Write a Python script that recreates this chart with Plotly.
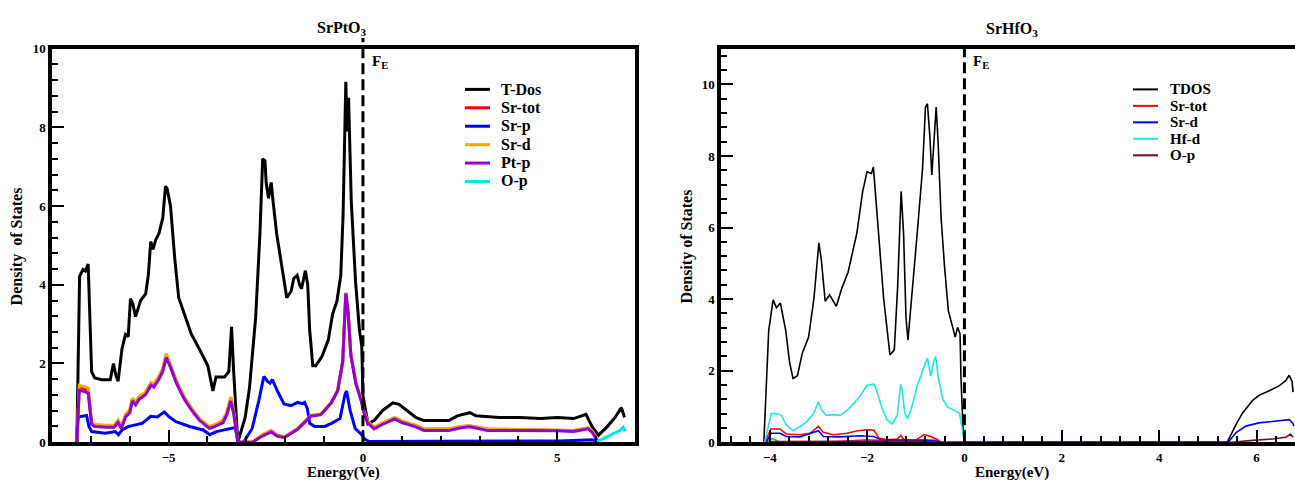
import plotly.graph_objects as go

W, H = 1295, 488
def px(x): return x / W
def py(y): return 1 - y / H

# ---------------- SrPtO3 (left panel) ----------------
pt_tdos_x = [-7.36, -7.29, -7.2, -7.14, -7.07, -6.98, -6.9, -6.72, -6.5, -6.42, -6.36, -6.3, -6.2, -6.11,
             -6.04, -5.98, -5.92, -5.85, -5.72, -5.59, -5.52, -5.46, -5.4, -5.33, -5.25, -5.15, -5.08, -5.04,
             -4.95, -4.84, -4.74, -4.63, -4.42, -4.2, -3.99, -3.86, -3.78, -3.56, -3.45, -3.38, -3.33, -3.22,
             -3.03, -2.92, -2.76, -2.65, -2.58, -2.52, -2.49, -2.43, -2.36, -2.31, -2.22, -2.06, -1.96, -1.85,
             -1.78, -1.69, -1.63, -1.58, -1.48, -1.42, -1.37, -1.29, -1.21, -1.05, -0.89, -0.78, -0.67, -0.57,
             -0.51, -0.44, -0.41, -0.37, -0.3, -0.19, -0.09, -0.03, 0.0, 0.07, 0.13, 0.29, 0.5, 0.77, 0.93,
             1.14, 1.36, 1.57, 2.21, 2.43, 2.75, 2.91, 3.5, 4.03, 4.57, 5.0, 5.42, 5.74, 5.9, 6.06, 6.28,
             6.49, 6.65, 6.73]
pt_tdos_y = [0, 4.22, 4.39, 4.35, 4.53, 1.79, 1.63, 1.59, 1.59, 2.0, 1.71, 1.55, 2.37, 2.74,
             2.68, 3.65, 3.52, 3.19, 3.6, 3.77, 4.26, 5.1, 4.9, 5.15, 5.3, 5.7, 6.5, 6.45,
             6.0, 4.65, 3.67, 3.34, 2.76, 2.35, 1.94, 1.3, 1.66, 1.66, 1.8, 2.93, 1.86, 0,
             0.63, 1.37, 3.17, 5.3, 7.2, 7.15, 6.6, 6.2, 6.6, 6.1, 5.3, 4.3, 3.67, 3.83,
             4.16, 4.24, 4.0, 3.9, 4.36, 4.0, 2.85, 1.94, 1.94, 2.19, 2.6, 3.26, 3.58, 4.24,
             5.8, 9.16, 7.9, 8.75, 6.13, 4.08, 2.85, 2.44, 1.2, 0.8, 0.47, 0.55, 0.8, 1.0, 0.96,
             0.8, 0.63, 0.55, 0.55, 0.67, 0.75, 0.67, 0.63, 0.63, 0.6, 0.63, 0.6, 0.71, 0.39, 0.18, 0.39,
             0.63, 0.88, 0.63]

pt_pd_x = [-7.36, -7.3, -7.2, -7.07, -6.98, -6.9, -6.6, -6.4, -6.3, -6.22, -6.1, -6.0, -5.93, -5.85,
           -5.75, -5.6, -5.45, -5.38, -5.25, -5.15, -5.06, -4.95, -4.8, -4.6, -4.4, -4.2, -3.95, -3.8,
           -3.6, -3.5, -3.4, -3.32, -3.22, -2.84, -2.6, -2.45, -2.36, -2.2, -2.02, -1.68, -1.34, -1.08,
           -0.82, -0.65, -0.52, -0.44, -0.38, -0.31, -0.18, -0.05, 0.03, 0.12, 0.29, 0.5, 0.82, 1.0,
           1.36, 1.57, 2.21, 2.5, 2.75, 3.2, 4.0, 4.5, 5.0, 5.42, 5.8, 5.9, 6.06]
pt_ptp_y = [0, 1.32, 1.3, 1.25, 0.45, 0.4, 0.38, 0.38, 0.5, 0.35, 0.65, 0.75, 1.05, 0.95,
            1.1, 1.2, 1.45, 1.4, 1.6, 1.8, 2.15, 1.9, 1.5, 1.1, 0.8, 0.55, 0.35, 0.4,
            0.5, 0.7, 1.05, 0.7, 0, 0, 0.15, 0.22, 0.26, 0.15, 0.12, 0.33, 0.66, 0.7,
            0.99, 1.31, 2.05, 3.78, 3.28, 2.2, 1.48, 1.07, 0.74, 0.49, 0.34, 0.45, 0.59, 0.5,
            0.39, 0.3, 0.3, 0.36, 0.39, 0.3, 0.3, 0.29, 0.29, 0.27, 0.34, 0.25, 0]
pt_srd_y = [0, 1.45, 1.42, 1.38, 0.5, 0.45, 0.43, 0.43, 0.56, 0.4, 0.72, 0.82, 1.12, 1.02,
            1.17, 1.27, 1.52, 1.47, 1.68, 1.88, 2.25, 1.98, 1.57, 1.16, 0.85, 0.6, 0.4, 0.45,
            0.56, 0.77, 1.15, 0.75, 0, 0, 0.18, 0.26, 0.3, 0.18, 0.14, 0.35, 0.68, 0.72,
            1.0, 1.32, 2.05, 3.8, 3.3, 2.22, 1.5, 1.1, 0.78, 0.53, 0.38, 0.49, 0.63, 0.54,
            0.43, 0.34, 0.34, 0.4, 0.42, 0.34, 0.33, 0.32, 0.32, 0.3, 0.37, 0.28, 0]
pt_srtot_y = [0, 1.4, 1.38, 1.33, 0.48, 0.43, 0.41, 0.41, 0.54, 0.38, 0.7, 0.8, 1.1, 1.0,
              1.15, 1.25, 1.5, 1.45, 1.65, 1.85, 2.22, 1.95, 1.55, 1.14, 0.83, 0.58, 0.38, 0.43,
              0.54, 0.75, 1.12, 0.73, 0, 0, 0.17, 0.25, 0.29, 0.17, 0.13, 0.34, 0.67, 0.71,
              1.0, 1.31, 2.05, 3.79, 3.29, 2.21, 1.49, 1.09, 0.77, 0.52, 0.37, 0.48, 0.62, 0.53,
              0.42, 0.33, 0.33, 0.39, 0.41, 0.33, 0.32, 0.31, 0.31, 0.29, 0.36, 0.27, 0]

pt_srp_x = [-7.37, -7.33, -7.11, -7.05, -6.98, -6.63, -6.37, -6.29, -6.2, -6.03, -5.85, -5.68, -5.46,
            -5.29, -5.11, -4.98, -4.81, -4.46, -4.11, -3.94, -3.77, -3.42, -3.29, -3.2, -3.07, -2.85,
            -2.68, -2.55, -2.46, -2.39, -2.33, -2.2, -2.03, -1.85, -1.68, -1.55, -1.5, -1.43, -1.37,
            -1.24, -0.98, -0.81, -0.59, -0.46, -0.42, -0.33, -0.2, -0.07, 0.06, 0.15, 1.0, 3.0, 5.0,
            5.6, 5.9, 6.05]
pt_srp_y = [0, 0.64, 0.68, 0.4, 0.27, 0.23, 0.27, 0.19, 0.31, 0.4, 0.44, 0.48, 0.66,
            0.64, 0.77, 0.64, 0.52, 0.4, 0.31, 0.19, 0.27, 0.35, 0.37, 0, 0, 0.35,
            1.05, 1.67, 1.55, 1.5, 1.59, 1.3, 0.97, 0.93, 1.01, 0.98, 1.01, 0.85, 0.48,
            0.4, 0.4, 0.48, 0.6, 1.22, 1.3, 0.81, 0.35, 0.23, 0.07, 0.02, 0.02, 0.03, 0.03,
            0.05, 0.06, 0]

pt_op_x = [6.0, 6.1, 6.3, 6.5, 6.62, 6.7, 6.75]
pt_op_y = [0, 0.05, 0.15, 0.24, 0.3, 0.38, 0.28]

# ---------------- SrHfO3 (right panel) ----------------
hf_tdos_x = [-4.12, -4.02, -3.93, -3.86, -3.78, -3.67, -3.59, -3.52, -3.43, -3.33, -3.2, -3.09, -2.99,
             -2.94, -2.86, -2.77, -2.71, -2.63, -2.52, -2.39, -2.21, -2.09, -2.0, -1.91, -1.87, -1.79,
             -1.66, -1.53, -1.44, -1.37, -1.3, -1.25, -1.2, -1.16, -1.08, -0.97, -0.86, -0.8, -0.76,
             -0.71, -0.67, -0.63, -0.58, -0.54, -0.48, -0.41, -0.33, -0.24, -0.19, -0.14, -0.09, -0.07,
             -0.03, 0.0, 5.4, 5.58, 5.71, 5.92, 6.05, 6.26, 6.47, 6.6, 6.67, 6.73, 6.75]
hf_tdos_y = [0, 3.12, 3.98, 3.76, 3.89, 3.12, 2.22, 1.78, 1.86, 2.49, 2.94, 4.03, 5.57,
             5.11, 3.94, 4.12, 3.98, 3.8, 4.3, 4.75, 5.84, 7.01, 7.56, 7.51, 7.69, 6.29,
             4.03, 2.44, 2.58, 4.39, 7.01, 5.84, 3.48, 2.85, 4.03, 5.84, 7.65, 9.37, 9.46,
             8.55, 7.47, 8.37, 9.37, 8.37, 6.29, 4.93, 3.67, 3.21, 2.94, 3.21, 3.03, 1.76,
             0.41, 0, 0, 0.5, 0.81, 1.17, 1.31, 1.44, 1.58, 1.72, 1.87, 1.7, 1.4]

hf_srtot_x = [-4.08, -4.03, -3.97, -3.79, -3.66, -3.38, -3.17, -3.0, -2.9, -2.69, -2.41, -2.2, -2.0,
              -1.86, -1.76, -1.59, -1.38, -1.31, -1.24, -1.03, -0.83, -0.69, -0.55, -0.48]
hf_srtot_y = [0, 0.21, 0.37, 0.37, 0.23, 0.21, 0.25, 0.44, 0.28, 0.21, 0.25, 0.32, 0.35,
              0.34, 0.12, 0.07, 0.09, 0.19, 0.07, 0.03, 0.21, 0.16, 0.07, 0]

hf_srd_x = [-4.07, -3.97, -3.79, -3.66, -3.38, -3.0, -2.9, -2.55, -2.14, -1.86, -1.72, -1.31, -0.97,
            -0.62, -0.48, 5.42, 5.58, 5.78, 6.05, 6.47, 6.67, 6.74, 6.77]
hf_srd_y = [0, 0.25, 0.25, 0.16, 0.15, 0.32, 0.16, 0.15, 0.18, 0.16, 0.07, 0.07, 0.05,
            0.05, 0, 0, 0.27, 0.45, 0.54, 0.59, 0.63, 0.54, 0.45]

hf_hfd_x = [-4.1, -4.03, -3.97, -3.86, -3.76, -3.66, -3.52, -3.38, -3.24, -3.1, -3.0, -2.93, -2.83,
            -2.69, -2.55, -2.41, -2.28, -2.14, -2.0, -1.86, -1.79, -1.69, -1.59, -1.48, -1.38, -1.31,
            -1.28, -1.23, -1.17, -1.1, -0.97, -0.84, -0.76, -0.69, -0.62, -0.59, -0.54, -0.45, -0.34,
            -0.21, -0.1, -0.06, 0.0]
hf_hfd_y = [0, 0.48, 0.8, 0.8, 0.75, 0.48, 0.32, 0.44, 0.57, 0.8, 1.12, 0.89, 0.75,
            0.77, 0.75, 0.89, 1.07, 1.3, 1.59, 1.62, 1.39, 0.94, 0.62, 0.51, 0.75, 1.62,
            1.48, 0.85, 0.66, 0.89, 1.57, 2.07, 2.35, 1.85, 2.3, 2.39, 1.85, 1.21, 0.98,
            0.89, 0.8, 0.48, 0]

hf_op_x = [-4.0, -3.0, -2.0, -1.0, -0.5, 5.5, 5.92, 6.33, 6.6, 6.7, 6.75]
hf_op_y = [0.02, 0.03, 0.04, 0.03, 0, 0, 0.05, 0.09, 0.14, 0.23, 0.14]

hf_extra1_x = [-4.05, -3.98, -3.9, -3.8]
hf_extra1_y = [0, 0.1, 0.08, 0]
hf_extra2_x = [-2.6, -2.2, -2.0, -1.6, -1.2, -0.8, -0.5]
hf_extra2_y = [0.02, 0.04, 0.07, 0.04, 0.05, 0.06, 0]

FONT = "Liberation Serif"

left_series = [
    ("T-Dos", pt_tdos_x, pt_tdos_y, "#000000"),
    ("Sr-tot", pt_pd_x, pt_srtot_y, "#ff0000"),
    ("Sr-p", pt_srp_x, pt_srp_y, "#0000ff"),
    ("Sr-d", pt_pd_x, pt_srd_y, "#ffa500"),
    ("Pt-p", pt_pd_x, pt_ptp_y, "#9400d3"),
    ("O-p", pt_op_x, pt_op_y, "#00e5ee"),
]
right_series = [
    ("TDOS", hf_tdos_x, hf_tdos_y, "#000000"),
    ("Sr-tot", hf_srtot_x, hf_srtot_y, "#ff0000"),
    ("Sr-d", hf_srd_x, hf_srd_y, "#0000ff"),
    ("Hf-d", hf_hfd_x, hf_hfd_y, "#1ee6e6"),
    ("O-p", hf_op_x, hf_op_y, "#6b1035"),
]

fig = go.Figure()

for name, xs, ys, col in left_series:
    fig.add_trace(go.Scatter(x=xs, y=ys, name=name, mode="lines",
                             line=dict(color=col, width=3), xaxis="x", yaxis="y",
                             showlegend=False))

fig.add_trace(go.Scatter(x=hf_extra1_x, y=hf_extra1_y, mode="lines", line=dict(color="#22cc22", width=1.6),
                         xaxis="x2", yaxis="y2", showlegend=False))
fig.add_trace(go.Scatter(x=hf_extra2_x, y=hf_extra2_y, mode="lines", line=dict(color="#ee00ee", width=1.6),
                         xaxis="x2", yaxis="y2", showlegend=False))
for name, xs, ys, col in right_series:
    fig.add_trace(go.Scatter(x=xs, y=ys, name=name, mode="lines",
                             line=dict(color=col, width=1.6), xaxis="x2", yaxis="y2",
                             showlegend=False))

tickfont = dict(family=FONT, size=13, color="black", weight="bold")
minor_common = dict(ticks="inside", ticklen=6, tickwidth=2, tickcolor="black", showgrid=False)
axis_common = dict(showline=True, linewidth=3.5, linecolor="black", ticks="inside", ticklen=12,
                   tickwidth=2, tickcolor="black", showgrid=False, zeroline=False, tickfont=tickfont)

left_dom_x = [px(52), px(635)]
right_dom_x = [px(721), 1.0]
dom_y = [py(449), py(43)]

fig.update_layout(
    width=W, height=H, margin=dict(l=0, r=0, t=0, b=0),
    paper_bgcolor="white", plot_bgcolor="white",
    showlegend=False,
    xaxis=dict(domain=left_dom_x, range=[-8, 7], dtick=5, tick0=0, anchor="y", mirror=True,
               minor=dict(dtick=1, **minor_common), **axis_common),
    yaxis=dict(domain=dom_y, range=[0, 10], dtick=2, tick0=0, anchor="x", mirror=True,
               minor=dict(dtick=0.4, **minor_common), **axis_common),
    xaxis2=dict(domain=right_dom_x, range=[-5, 6.79], dtick=2, tick0=0, anchor="y2", mirror=True,
                minor=dict(dtick=0.4, **minor_common), **axis_common),
    yaxis2=dict(domain=dom_y, range=[0, 11], dtick=2, tick0=0, anchor="x2", mirror=False,
                minor=dict(dtick=0.4, **minor_common), **axis_common),
)

shapes = [
    dict(type="line", xref="x", yref="paper", x0=0, x1=0, y0=py(449), y1=py(32),
         line=dict(color="black", width=3, dash="11px,5px")),
    dict(type="line", xref="x2", yref="paper", x0=0, x1=0, y0=py(448), y1=py(43),
         line=dict(color="black", width=3, dash="11px,5px")),
]

annotations = []
def ann(text, x, y, size, xanchor="center", xref="paper", yref="paper", angle=0, yanchor="middle"):
    annotations.append(dict(text=text, x=x, y=y, xref=xref, yref=yref, xanchor=xanchor,
                            yanchor=yanchor, showarrow=False, textangle=angle,
                            font=dict(family=FONT, size=size, color="black")))

ann("<b>SrPtO<sub>3</sub></b>", px(342), py(22), 16)
ann("<b>SrHfO<sub>3</sub></b>", px(1012), py(23), 16)
ann("<b>F<sub>E</sub></b>", px(370), py(57), 15, xanchor="left")
ann("<b>F<sub>E</sub></b>", px(971), py(57), 15, xanchor="left")
ann("<b>Energy(Ve)</b>", px(343), py(480), 15)
ann("<b>Energy(eV)</b>", px(1012), py(480), 15)
ann("<b>Density\u00a0 of States</b>", px(17), py(247), 16, angle=-90)
ann("<b>Density of States</b>", px(687), py(247), 16, angle=-90)

# legends (entries come from the series lists)
for i, (name, _, _, col) in enumerate(left_series):
    yy = 85 + 19 * i
    shapes.append(dict(type="line", xref="paper", yref="paper", x0=px(465), x1=px(490),
                       y0=py(yy), y1=py(yy), line=dict(color=col, width=3)))
    ann("<b>%s</b>" % name, px(499), py(yy), 16, xanchor="left")
for i, (name, _, _, col) in enumerate(right_series):
    yy = 85 + 17 * i
    shapes.append(dict(type="line", xref="paper", yref="paper", x0=px(1133), x1=px(1158),
                       y0=py(yy), y1=py(yy), line=dict(color=col, width=2)))
    ann("<b>%s</b>" % name, px(1168), py(yy), 15, xanchor="left")

fig.update_layout(shapes=shapes, annotations=annotations)
# remove the browser's default 8px page margin so the 1295x488 figure fills the window exactly
fig.write_html("out.html", config={"displayModeBar": False},
               post_script="document.body.style.margin='0';document.body.style.overflow='hidden';")
